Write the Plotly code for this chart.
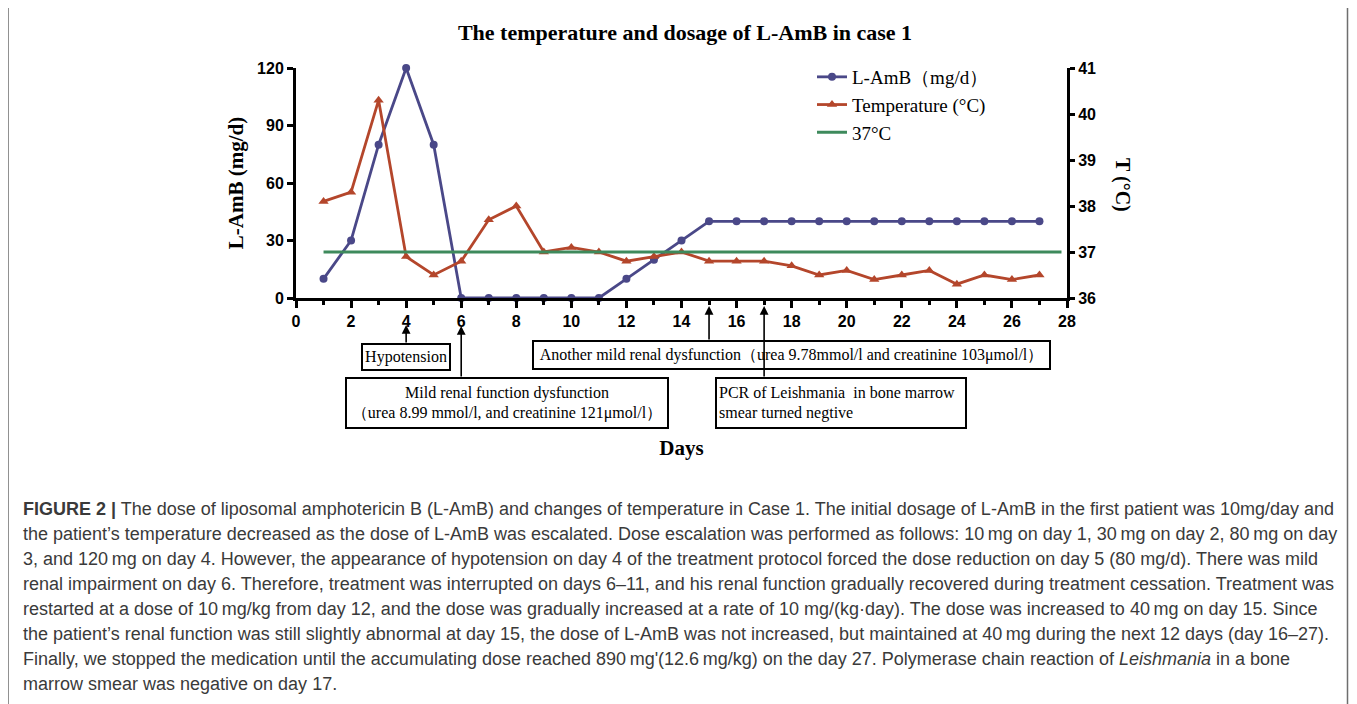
import plotly.graph_objects as go

# ---------------- data ----------------
days = list(range(1, 28))
lamb = [10, 30, 80, 120, 80, 0, 0, 0, 0, 0, 0, 10, 20, 30,
        40, 40, 40, 40, 40, 40, 40, 40, 40, 40, 40, 40, 40]
temp = [38.1, 38.3, 40.3, 36.9, 36.5, 36.8, 37.7, 38.0, 37.0, 37.1, 37.0,
        36.8, 36.9, 37.0, 36.8, 36.8, 36.8, 36.7, 36.5, 36.6, 36.4, 36.5,
        36.6, 36.3, 36.5, 36.4, 36.5]
ref_days = [1, 27.8]
ref_temp = [37, 37]
x_ticks = list(range(0, 29, 2))
y1_ticks = [0, 30, 60, 90, 120]
y2_ticks = [36, 37, 38, 39, 40, 41]
event_days = [4, 6, 15, 17]

caption_lines = [
    "<b>FIGURE 2 |</b> The dose of liposomal amphotericin B (L-AmB) and changes of temperature in Case 1. The initial dosage of L-AmB in the first patient was 10mg/day and",
    "the patient\u2019s temperature decreased as the dose of L-AmB was escalated. Dose escalation was performed as follows: 10\u2009mg on day 1, 30\u2009mg on day 2, 80\u2009mg on day",
    "3, and 120\u2009mg on day 4. However, the appearance of hypotension on day 4 of the treatment protocol forced the dose reduction on day 5 (80 mg/d). There was mild",
    "renal impairment on day 6. Therefore, treatment was interrupted on days 6\u201311, and his renal function gradually recovered during treatment cessation. Treatment was",
    "restarted at a dose of 10\u2009mg/kg from day 12, and the dose was gradually increased at a rate of 10 mg/(kg\u00b7day). The dose was increased to 40\u2009mg on day 15. Since",
    "the patient\u2019s renal function was still slightly abnormal at day 15, the dose of L-AmB was not increased, but maintained at 40\u2009mg during the next 12 days (day 16\u201327).",
    "Finally, we stopped the medication until the accumulating dose reached 890\u2009mg'(12.6\u2009mg/kg) on the day 27. Polymerase chain reaction of <i>Leishmania</i> in a bone",
    "marrow smear was negative on day 17.",
]

# ---------------- layout helpers (screen pixel coordinates) ----------------
OFF = 8                      # page body margin
W, H = 1357 - OFF, 704 - OFF
L, R, T, B = 296, 1067, 68, 298   # plot area on screen
PW, PH = R - L, B - T


def px(x):
    return (x - L) / PW


def py(y):
    return (B - y) / PH


SERIF = "Liberation Serif, Times New Roman, serif"
SANS = "Liberation Sans, Arial, sans-serif"

C_LAMB = "#4a4888"
C_TEMP = "#b4462b"
C_REF = "#3e8a5c"

fig = go.Figure()
fig.add_trace(go.Scatter(
    x=days, y=lamb, name="L-AmB\uff08mg/d\uff09", mode="lines+markers",
    line=dict(color=C_LAMB, width=2.8),
    marker=dict(symbol="circle", size=8, color=C_LAMB),
    cliponaxis=False, legendgroup="a"))
fig.add_trace(go.Scatter(
    x=days, y=temp, name="Temperature (\u00b0C)", mode="lines+markers", yaxis="y2",
    line=dict(color=C_TEMP, width=2.8),
    marker=dict(symbol="triangle-up", size=9, color=C_TEMP),
    cliponaxis=False, legendgroup="b"))
fig.add_trace(go.Scatter(
    x=ref_days, y=ref_temp, name="37\u00b0C", mode="lines", yaxis="y2",
    line=dict(color=C_REF, width=3), cliponaxis=False, legendgroup="c"))

axis_common = dict(
    showline=True, linecolor="black", linewidth=3, showgrid=False, zeroline=False,
    ticks="outside", tickwidth=3, tickcolor="black",
    tickfont=dict(family=SANS, size=16, color="black", weight="bold"),
)

annotations = []

# event boxes
box_font = dict(family=SERIF, size=16, color="black")
boxes = [
    ("Hypotension", 406, 357, 82, 20, "center"),
    ("Mild renal function dysfunction<br>\uff08urea 8.99 mmol/l, and creatinine 121\u03bcmol/l\uff09", 507, 403, 316, 44, "center"),
    ("Another mild renal dysfunction\uff08urea 9.78mmol/l and creatinine 103\u03bcmol/l\uff09", 791.5, 355, 511, 22, "center"),
    ("PCR of Leishmania  in bone marrow<br>smear turned negtive", 841, 403, 244, 44, "left"),
]
for text, cx, cy, w, h, al in boxes:
    annotations.append(dict(
        text=text, xref="paper", yref="paper", x=px(cx), y=py(cy),
        xanchor="center", yanchor="middle", showarrow=False,
        width=w, height=h, align=al, valign="middle",
        bordercolor="black", borderwidth=2, borderpad=2, bgcolor="white",
        font=box_font))

# arrows (head y, tail y in screen pixels)
arrow_px = [(325, 344), (326, 378), (306, 341), (306, 378)]
for d, (hy, ty) in zip(event_days, arrow_px):
    annotations.append(dict(
        text="", xref="x", yref="paper", x=d, y=py(hy),
        axref="pixel", ayref="pixel", ax=0, ay=ty - hy,
        showarrow=True, arrowhead=2, arrowsize=1.1, arrowwidth=1.6,
        arrowcolor="black"))

# right axis title (reads top to bottom)
annotations.append(dict(
    text="<b>T (\u00b0C)</b>", xref="paper", yref="paper", x=px(1123), y=py(185),
    textangle=90, showarrow=False, xanchor="center", yanchor="middle",
    font=dict(family=SERIF, size=20, color="black")))

# caption
y0 = 508.5
for i, line in enumerate(caption_lines):
    annotations.append(dict(
        text=line, xref="paper", yref="paper", x=px(21), y=py(y0 + i * 25.1),
        xanchor="left", yanchor="middle", showarrow=False, align="left",
        font=dict(family=SANS, size=18, color="#3a3a3a")))

fig.update_layout(
    width=W, height=H,
    margin=dict(l=L - OFF, r=W - (R - OFF), t=T - OFF, b=H - (B - OFF),
                autoexpand=False),
    paper_bgcolor="white", plot_bgcolor="white",
    title=dict(text="<b>The temperature and dosage of L-AmB in case 1</b>",
               x=px(685), xref="paper", xanchor="center",
               y=1 - (32 - OFF) / H, yref="container", yanchor="middle",
               font=dict(family=SERIF, size=22, color="black")),
    xaxis=dict(**axis_common, range=[0, 28], tickvals=x_ticks, ticklen=7,
               minor=dict(dtick=1, tick0=0, ticks="outside", ticklen=4,
                          tickwidth=2.5, tickcolor="black"),
               title=dict(text="<b>Days</b>", standoff=112,
                          font=dict(family=SERIF, size=21, color="black"))),
    yaxis=dict(**axis_common, range=[0, 120], tickvals=y1_ticks, ticklen=6,
               title=dict(text="<b>L-AmB (mg/d)</b>", standoff=8,
                          font=dict(family=SERIF, size=21, color="black"))),
    yaxis2=dict(**axis_common, range=[36, 41], tickvals=y2_ticks, ticklen=5,
                overlaying="y", side="right"),
    legend=dict(x=px(812), y=py(58), xanchor="left", yanchor="top",
                bgcolor="rgba(0,0,0,0)", tracegroupgap=0,
                font=dict(family=SERIF, size=19, color="black")),
    showlegend=True,
    annotations=annotations,
    shapes=[dict(type="rect", xref="paper", yref="paper",
                 x0=px(8), x1=px(1347.5), y0=py(730), y1=py(6),
                 line=dict(color="#6e6e6e", width=1.5), layer="below")],
)

fig.write_html("out.html")
